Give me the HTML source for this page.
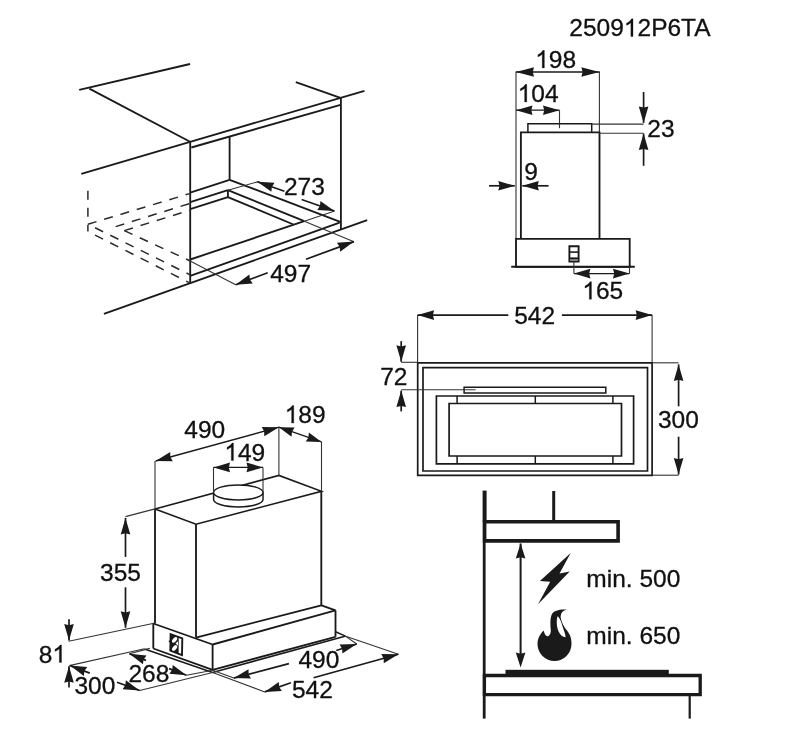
<!DOCTYPE html>
<html><head><meta charset="utf-8"><style>html,body{margin:0;padding:0;background:#fff;}svg{display:block;will-change:transform}</style></head>
<body><svg width="793" height="751" viewBox="0 0 793 751" font-family="Liberation Sans, sans-serif" fill="#111" stroke-width="0">
<line x1="79.2" y1="89.9" x2="190" y2="64.0" stroke="#1a1a1a" stroke-width="1.85" />
<line x1="89.3" y1="88.6" x2="190.1" y2="141.8" stroke="#1a1a1a" stroke-width="1.85" />
<line x1="81.3" y1="173.8" x2="190.1" y2="141.8" stroke="#1a1a1a" stroke-width="1.85" />
<line x1="190.1" y1="141.8" x2="340.5" y2="97.8" stroke="#1a1a1a" stroke-width="1.85" />
<line x1="191.3" y1="147.5" x2="340.5" y2="104.8" stroke="#1a1a1a" stroke-width="1.85" />
<line x1="295.8" y1="82.1" x2="340.5" y2="97.8" stroke="#1a1a1a" stroke-width="1.85" />
<line x1="340.5" y1="97.8" x2="364.5" y2="90.9" stroke="#1a1a1a" stroke-width="1.85" />
<line x1="190.2" y1="141.8" x2="190.2" y2="282.6" stroke="#1a1a1a" stroke-width="1.85" />
<line x1="340.9" y1="97.8" x2="340.9" y2="229.5" stroke="#1a1a1a" stroke-width="1.85" />
<line x1="229.6" y1="136.5" x2="229.6" y2="179.8" stroke="#1a1a1a" stroke-width="1.85" />
<line x1="190.2" y1="192.7" x2="229.6" y2="179.8" stroke="#1a1a1a" stroke-width="1.85" />
<line x1="229.6" y1="179.8" x2="340.9" y2="222.1" stroke="#1a1a1a" stroke-width="1.85" />
<line x1="190.2" y1="202.2" x2="227.9" y2="190.2" stroke="#1a1a1a" stroke-width="1.85" />
<line x1="227.9" y1="190.2" x2="227.9" y2="197.1" stroke="#1a1a1a" stroke-width="1.85" />
<line x1="227.9" y1="190.2" x2="304.3" y2="221.2" stroke="#1a1a1a" stroke-width="1.85" />
<line x1="190.2" y1="209.1" x2="227.9" y2="197.1" stroke="#1a1a1a" stroke-width="1.85" />
<line x1="227.9" y1="197.1" x2="293.5" y2="224.5" stroke="#1a1a1a" stroke-width="1.85" />
<line x1="190.2" y1="259.5" x2="304.3" y2="221.2" stroke="#1a1a1a" stroke-width="1.85" />
<line x1="190.2" y1="275.9" x2="339.6" y2="222.7" stroke="#1a1a1a" stroke-width="1.85" />
<line x1="103.9" y1="313.8" x2="367.2" y2="220.1" stroke="#1a1a1a" stroke-width="1.85" />
<line x1="87.9" y1="190.7" x2="87.9" y2="231.5" stroke="#2a2a2a" stroke-width="1.5" stroke-dasharray="9 8" stroke-dashoffset="0"/>
<line x1="87.9" y1="224.2" x2="189.7" y2="193.6" stroke="#2a2a2a" stroke-width="1.5" stroke-dasharray="9 8" stroke-dashoffset="0"/>
<line x1="115.6" y1="226.6" x2="189.7" y2="203.5" stroke="#2a2a2a" stroke-width="1.5" stroke-dasharray="9 8" stroke-dashoffset="0"/>
<line x1="124.3" y1="230.6" x2="189.7" y2="210.3" stroke="#2a2a2a" stroke-width="1.5" stroke-dasharray="9 8" stroke-dashoffset="0"/>
<line x1="87.9" y1="224.2" x2="189.7" y2="274.6" stroke="#2a2a2a" stroke-width="1.5" stroke-dasharray="9 8" stroke-dashoffset="9"/>
<line x1="87.9" y1="231.5" x2="189.7" y2="282.9" stroke="#2a2a2a" stroke-width="1.5" stroke-dasharray="9 8" stroke-dashoffset="9"/>
<line x1="124.3" y1="230.6" x2="189.7" y2="260.7" stroke="#2a2a2a" stroke-width="1.5" stroke-dasharray="9 8" stroke-dashoffset="0"/>
<line x1="227.9" y1="190.2" x2="258.8" y2="181.5" stroke="#333" stroke-width="1.1" />
<line x1="304.3" y1="221.2" x2="334.6" y2="211.1" stroke="#333" stroke-width="1.1" />
<line x1="284.4" y1="191.3" x2="257.4" y2="181.8" stroke="#1a1a1a" stroke-width="1.7" />
<path d="M257.40,181.80 L274.56,182.75 L271.83,186.88 L271.37,191.80 Z" fill="#1a1a1a"/>
<line x1="301.6" y1="199.5" x2="334.4" y2="211.0" stroke="#1a1a1a" stroke-width="1.7" />
<path d="M334.40,211.00 L317.24,210.07 L319.96,205.94 L320.42,201.01 Z" fill="#1a1a1a"/>
<text x="283.97" y="195.4" font-size="24.5" stroke="#111" stroke-width="0.3">273</text>
<line x1="189.7" y1="260.7" x2="235.6" y2="284.8" stroke="#333" stroke-width="1.1" />
<line x1="304.3" y1="221.2" x2="354.0" y2="241.7" stroke="#333" stroke-width="1.1" />
<line x1="267.7" y1="272.8" x2="235.6" y2="284.8" stroke="#1a1a1a" stroke-width="1.7" />
<path d="M235.60,284.80 L249.37,274.53 L249.93,279.44 L252.74,283.52 Z" fill="#1a1a1a"/>
<line x1="306.0" y1="259.2" x2="354.0" y2="241.6" stroke="#1a1a1a" stroke-width="1.7" />
<path d="M354.00,241.60 L340.16,251.79 L339.64,246.87 L336.86,242.77 Z" fill="#1a1a1a"/>
<text x="270.24" y="281.9" font-size="24.5" stroke="#111" stroke-width="0.3">497</text>
<text x="569.37" y="36.4" font-size="24.5" stroke="#111" stroke-width="0.3">2509</text>
<path d="M633.00,36.40 L630.85,36.40 L630.85,22.68 Q630.07,23.42 628.81,24.16 Q627.54,24.90 626.54,25.27 L626.54,23.19 Q628.34,22.34 629.68,21.15 Q631.01,19.96 631.61,18.86 L633.00,18.86 Z" fill="#111" stroke="#111" stroke-width="0.3"/>
<text x="637.50" y="36.4" font-size="24.5" stroke="#111" stroke-width="0.3">2P6TA</text>
<line x1="516" y1="71.4" x2="516" y2="238.8" stroke="#333" stroke-width="1.1" />
<line x1="599.4" y1="71.4" x2="599.4" y2="132.4" stroke="#333" stroke-width="1.1" />
<line x1="516" y1="72" x2="599.4" y2="72" stroke="#1a1a1a" stroke-width="1.3" />
<path d="M516.00,72.00 L534.00,67.20 L532.80,72.00 L534.00,76.80 Z" fill="#1a1a1a"/>
<path d="M599.40,72.00 L581.40,76.80 L582.60,72.00 L581.40,67.20 Z" fill="#1a1a1a"/>
<path d="M544.36,67.90 L542.21,67.90 L542.21,54.18 Q541.43,54.92 540.17,55.66 Q538.90,56.40 537.90,56.77 L537.90,54.69 Q539.71,53.84 541.04,52.65 Q542.37,51.46 542.97,50.36 L544.36,50.36 Z" fill="#111" stroke="#111" stroke-width="0.3"/>
<text x="548.86" y="67.9" font-size="24.5" stroke="#111" stroke-width="0.3">98</text>
<line x1="516" y1="110.2" x2="559.5" y2="110.2" stroke="#1a1a1a" stroke-width="1.3" />
<path d="M516.00,110.20 L532.50,105.40 L531.30,110.20 L532.50,115.00 Z" fill="#1a1a1a"/>
<path d="M559.50,110.20 L543.00,115.00 L544.20,110.20 L543.00,105.40 Z" fill="#1a1a1a"/>
<line x1="559.5" y1="110.2" x2="559.5" y2="128.2" stroke="#333" stroke-width="1.1" />
<path d="M526.76,101.90 L524.61,101.90 L524.61,88.18 Q523.83,88.92 522.57,89.66 Q521.30,90.40 520.30,90.77 L520.30,88.69 Q522.11,87.84 523.44,86.65 Q524.77,85.46 525.37,84.36 L526.76,84.36 Z" fill="#111" stroke="#111" stroke-width="0.3"/>
<text x="531.26" y="101.9" font-size="24.5" stroke="#111" stroke-width="0.3">04</text>
<path d="M527.9,132.4 L527.9,123.8 L591.7,123.8 L591.7,132.4" stroke="#1a1a1a" stroke-width="1.5" fill="none" stroke-linejoin="miter"/>
<path d="M520.9,238.8 L520.9,132.4 L599.5,132.4 L599.5,238.8" stroke="#1a1a1a" stroke-width="1.85" fill="none" stroke-linejoin="miter"/>
<line x1="591.7" y1="124.1" x2="643.6" y2="124.1" stroke="#333" stroke-width="1.1" />
<line x1="599.5" y1="133.2" x2="643.6" y2="133.2" stroke="#333" stroke-width="1.1" />
<line x1="643.6" y1="92" x2="643.6" y2="122.9" stroke="#1a1a1a" stroke-width="1.7" />
<path d="M643.60,122.90 L638.80,106.40 L643.60,107.60 L648.40,106.40 Z" fill="#1a1a1a"/>
<line x1="643.6" y1="165.8" x2="643.6" y2="133.6" stroke="#1a1a1a" stroke-width="1.7" />
<path d="M643.60,133.60 L648.40,150.10 L643.60,148.90 L638.80,150.10 Z" fill="#1a1a1a"/>
<text x="647.37" y="136.7" font-size="24.5" stroke="#111" stroke-width="0.3">23</text>
<line x1="489" y1="185.8" x2="514.8" y2="185.8" stroke="#1a1a1a" stroke-width="1.7" />
<path d="M514.80,185.80 L498.30,190.60 L499.50,185.80 L498.30,181.00 Z" fill="#1a1a1a"/>
<line x1="548.6" y1="185.8" x2="522.3" y2="185.8" stroke="#1a1a1a" stroke-width="1.7" />
<path d="M522.30,185.80 L538.80,181.00 L537.60,185.80 L538.80,190.60 Z" fill="#1a1a1a"/>
<text x="524.25" y="179.8" font-size="24.5" stroke="#111" stroke-width="0.3">9</text>
<path d="M516,238.8 L629.7,238.8 L629.7,266.8 L516,266.8 Z" stroke="#1a1a1a" stroke-width="1.85" fill="none" stroke-linejoin="miter"/>
<line x1="511.2" y1="266.8" x2="634.8" y2="266.8" stroke="#1a1a1a" stroke-width="2.0" />
<path d="M569.4,246.3 L578.6,246.3 L578.6,261.6 L569.4,261.6 Z" stroke="#1a1a1a" stroke-width="1.9" fill="none" stroke-linejoin="miter"/>
<line x1="569.4" y1="252.1" x2="578.6" y2="252.1" stroke="#1a1a1a" stroke-width="1.6" />
<line x1="569.4" y1="258.2" x2="578.6" y2="258.2" stroke="#1a1a1a" stroke-width="1.6" />
<rect x="570.2" y="259" width="7.6" height="1.8" fill="#777"/>
<line x1="573.9" y1="261.7" x2="573.9" y2="273.6" stroke="#333" stroke-width="1.1" />
<line x1="629.5" y1="266.8" x2="629.5" y2="273.6" stroke="#333" stroke-width="1.1" />
<line x1="573.9" y1="273.6" x2="629.5" y2="273.6" stroke="#1a1a1a" stroke-width="1.3" />
<path d="M573.90,273.60 L590.40,268.80 L589.20,273.60 L590.40,278.40 Z" fill="#1a1a1a"/>
<path d="M629.50,273.60 L613.00,278.40 L614.20,273.60 L613.00,268.80 Z" fill="#1a1a1a"/>
<path d="M591.46,299.20 L589.31,299.20 L589.31,285.48 Q588.53,286.22 587.27,286.96 Q586.00,287.70 585.00,288.07 L585.00,285.99 Q586.81,285.14 588.14,283.95 Q589.47,282.76 590.07,281.66 L591.46,281.66 Z" fill="#111" stroke="#111" stroke-width="0.3"/>
<text x="595.96" y="299.2" font-size="24.5" stroke="#111" stroke-width="0.3">65</text>
<line x1="417.6" y1="315.1" x2="417.6" y2="362.8" stroke="#333" stroke-width="1.1" />
<line x1="652.1" y1="315.1" x2="652.1" y2="362.8" stroke="#333" stroke-width="1.1" />
<line x1="508.3" y1="315.1" x2="417.6" y2="315.1" stroke="#1a1a1a" stroke-width="1.7" />
<path d="M417.60,315.10 L434.10,310.30 L432.90,315.10 L434.10,319.90 Z" fill="#1a1a1a"/>
<line x1="561.9" y1="315.1" x2="652.1" y2="315.1" stroke="#1a1a1a" stroke-width="1.7" />
<path d="M652.10,315.10 L635.60,319.90 L636.80,315.10 L635.60,310.30 Z" fill="#1a1a1a"/>
<text x="514.22" y="323.8" font-size="24.5" stroke="#111" stroke-width="0.3">542</text>
<path d="M417.7,362.8 L652.1,362.8 L652.1,475.3 L417.7,475.3 Z" stroke="#1a1a1a" stroke-width="1.7" fill="none" stroke-linejoin="miter"/>
<path d="M423.0,367.6 L647.5,367.6 L647.5,471.0 L423.0,471.0 Z" stroke="#1a1a1a" stroke-width="1.7" fill="none" stroke-linejoin="miter"/>
<path d="M464.1,387.2 L605.8,387.2 L605.8,393.0 L464.1,393.0 Z" stroke="#1a1a1a" stroke-width="1.5" fill="none" stroke-linejoin="miter"/>
<path d="M436.4,396.0 L633.6,396.0 L633.6,463.8 L436.4,463.8 Z" stroke="#1a1a1a" stroke-width="1.7" fill="none" stroke-linejoin="miter"/>
<path d="M449.1,403.5 L621.5,403.5 L621.5,456.0 L449.1,456.0 Z" stroke="#1a1a1a" stroke-width="1.7" fill="none" stroke-linejoin="miter"/>
<line x1="457.1" y1="396" x2="457.1" y2="403.5" stroke="#1a1a1a" stroke-width="1.5" />
<line x1="457.1" y1="456" x2="457.1" y2="463.8" stroke="#1a1a1a" stroke-width="1.5" />
<line x1="535.3" y1="396" x2="535.3" y2="403.5" stroke="#1a1a1a" stroke-width="1.5" />
<line x1="535.3" y1="456" x2="535.3" y2="463.8" stroke="#1a1a1a" stroke-width="1.5" />
<line x1="612.9" y1="396" x2="612.9" y2="403.5" stroke="#1a1a1a" stroke-width="1.5" />
<line x1="612.9" y1="456" x2="612.9" y2="463.8" stroke="#1a1a1a" stroke-width="1.5" />
<line x1="401.2" y1="362.3" x2="417.7" y2="362.3" stroke="#333" stroke-width="1.1" />
<line x1="401.2" y1="389.7" x2="475.6" y2="389.7" stroke="#333" stroke-width="1.1" />
<line x1="401.2" y1="341.2" x2="401.2" y2="361.8" stroke="#1a1a1a" stroke-width="1.7" />
<path d="M401.20,361.80 L396.40,345.30 L401.20,346.50 L406.00,345.30 Z" fill="#1a1a1a"/>
<line x1="401.2" y1="411.4" x2="401.2" y2="390.6" stroke="#1a1a1a" stroke-width="1.7" />
<path d="M401.20,390.60 L406.00,407.10 L401.20,405.90 L396.40,407.10 Z" fill="#1a1a1a"/>
<text x="380.24" y="384.7" font-size="24.5" stroke="#111" stroke-width="0.3">72</text>
<line x1="652.1" y1="362.8" x2="678.6" y2="362.8" stroke="#333" stroke-width="1.1" />
<line x1="652.1" y1="475.2" x2="678.6" y2="475.2" stroke="#333" stroke-width="1.1" />
<line x1="678.6" y1="406.3" x2="678.6" y2="364.4" stroke="#1a1a1a" stroke-width="1.7" />
<path d="M678.60,364.40 L683.40,380.90 L678.60,379.70 L673.80,380.90 Z" fill="#1a1a1a"/>
<line x1="678.6" y1="436.7" x2="678.6" y2="474.6" stroke="#1a1a1a" stroke-width="1.7" />
<path d="M678.60,474.60 L673.80,458.10 L678.60,459.30 L683.40,458.10 Z" fill="#1a1a1a"/>
<text x="657.97" y="428.3" font-size="24.5" stroke="#111" stroke-width="0.3">300</text>
<path d="M155,508.9 L278.9,475.4 L321.5,491.3 L196,524.2 L155,508.9" stroke="#1a1a1a" stroke-width="1.6" fill="none" stroke-linejoin="miter"/>
<line x1="155" y1="508.9" x2="155" y2="623.5" stroke="#1a1a1a" stroke-width="1.85" />
<line x1="196" y1="524.2" x2="196" y2="637.6" stroke="#1a1a1a" stroke-width="1.85" />
<line x1="321.3" y1="491.3" x2="321.3" y2="605.3" stroke="#1a1a1a" stroke-width="1.85" />
<line x1="196" y1="637.6" x2="321.3" y2="605.3" stroke="#1a1a1a" stroke-width="1.85" />
<line x1="153.3" y1="623.5" x2="212.6" y2="644.5" stroke="#1a1a1a" stroke-width="1.85" />
<line x1="153.3" y1="623.5" x2="153.3" y2="648.5" stroke="#1a1a1a" stroke-width="1.85" />
<line x1="212.6" y1="644.5" x2="212.6" y2="669.9" stroke="#1a1a1a" stroke-width="1.85" />
<line x1="212.6" y1="644.5" x2="335.5" y2="610.4" stroke="#1a1a1a" stroke-width="1.85" />
<line x1="320.8" y1="605.1" x2="335.5" y2="610.4" stroke="#1a1a1a" stroke-width="1.85" />
<line x1="335.5" y1="610.4" x2="335.5" y2="636.8" stroke="#1a1a1a" stroke-width="1.85" />
<line x1="212.6" y1="669.9" x2="335.5" y2="636.8" stroke="#1a1a1a" stroke-width="1.85" />
<line x1="153.3" y1="648.5" x2="212.6" y2="669.9" stroke="#1a1a1a" stroke-width="1.85" />
<line x1="144.5" y1="649" x2="212.6" y2="672.5" stroke="#1a1a1a" stroke-width="1.5" />
<line x1="212.6" y1="672.4" x2="345" y2="636.3" stroke="#1a1a1a" stroke-width="1.6" />
<line x1="335.5" y1="631.7" x2="345" y2="635.9" stroke="#1a1a1a" stroke-width="1.5" />
<path d="M170.6,634.2 L182.3,638.4 L182.0,655.2 L170.3,650.6 Z" fill="none" stroke="#1a1a1a" stroke-width="1.9"/>
<path d="M170.6,634.2 L178.7,637.2 L178.6,653.6 L170.3,650.6 Z" fill="#1a1a1a"/>
<ellipse cx="0" cy="0" rx="3.3" ry="1.9" fill="#fff" transform="translate(174.6,639.9) rotate(-50)"/>
<ellipse cx="0" cy="0" rx="3.3" ry="1.9" fill="#fff" transform="translate(174.6,648.0) rotate(-50)"/>
<path d="M175.5,643.5 L178,641.3 L178,645.7 Z" fill="#fff"/>
<line x1="168.8" y1="641.3" x2="171" y2="641.6" stroke="#1a1a1a" stroke-width="1.6" />
<path d="M213.6,492.4 L213.6,499.5 A24.7,7.5 0 0 0 263,499.5 L263,492.4" fill="none" stroke="#1a1a1a" stroke-width="1.5"/>
<ellipse cx="238.3" cy="492.4" rx="24.7" ry="7.5" fill="#fff" stroke="#1a1a1a" stroke-width="1.5"/>
<line x1="213.5" y1="467.4" x2="213.5" y2="492.4" stroke="#333" stroke-width="1.1" />
<line x1="263" y1="467.4" x2="263" y2="492.4" stroke="#333" stroke-width="1.1" />
<line x1="213.5" y1="467.4" x2="263" y2="467.4" stroke="#1a1a1a" stroke-width="1.3" />
<path d="M213.50,467.40 L230.00,462.60 L228.80,467.40 L230.00,472.20 Z" fill="#1a1a1a"/>
<path d="M263.00,467.40 L246.50,472.20 L247.70,467.40 L246.50,462.60 Z" fill="#1a1a1a"/>
<path d="M233.46,460.60 L231.31,460.60 L231.31,446.88 Q230.53,447.62 229.27,448.36 Q228.00,449.10 227.00,449.47 L227.00,447.39 Q228.81,446.54 230.14,445.35 Q231.47,444.16 232.07,443.06 L233.46,443.06 Z" fill="#111" stroke="#111" stroke-width="0.3"/>
<text x="237.96" y="460.6" font-size="24.5" stroke="#111" stroke-width="0.3">49</text>
<line x1="155" y1="461" x2="155" y2="508.9" stroke="#333" stroke-width="1.1" />
<line x1="278.9" y1="427.2" x2="278.9" y2="475.4" stroke="#333" stroke-width="1.1" />
<line x1="321.5" y1="441.9" x2="321.5" y2="491.3" stroke="#333" stroke-width="1.1" />
<line x1="155.6" y1="461" x2="278.9" y2="427.2" stroke="#1a1a1a" stroke-width="1.3" />
<path d="M155.60,461.00 L170.24,452.01 L170.36,456.96 L172.78,461.27 Z" fill="#1a1a1a"/>
<path d="M278.90,427.20 L264.26,436.19 L264.14,431.24 L261.72,426.93 Z" fill="#1a1a1a"/>
<line x1="278.9" y1="427.2" x2="321.5" y2="441.9" stroke="#1a1a1a" stroke-width="1.3" />
<path d="M278.90,427.20 L294.65,427.56 L291.95,431.70 L291.51,436.63 Z" fill="#1a1a1a"/>
<path d="M321.50,441.90 L305.75,441.54 L308.45,437.40 L308.89,432.47 Z" fill="#1a1a1a"/>
<text x="184.34" y="438.4" font-size="24.5" stroke="#111" stroke-width="0.3">490</text>
<path d="M293.76,423.00 L291.61,423.00 L291.61,409.28 Q290.83,410.02 289.57,410.76 Q288.30,411.50 287.30,411.87 L287.30,409.79 Q289.11,408.94 290.44,407.75 Q291.77,406.56 292.37,405.46 L293.76,405.46 Z" fill="#111" stroke="#111" stroke-width="0.3"/>
<text x="298.26" y="423" font-size="24.5" stroke="#111" stroke-width="0.3">89</text>
<line x1="125.5" y1="516.6" x2="155" y2="508.9" stroke="#333" stroke-width="1.1" />
<line x1="68.7" y1="641.2" x2="154" y2="623.3" stroke="#333" stroke-width="1.1" />
<line x1="125.5" y1="556.9" x2="125.5" y2="518" stroke="#1a1a1a" stroke-width="1.7" />
<path d="M125.50,518.00 L130.30,534.50 L125.50,533.30 L120.70,534.50 Z" fill="#1a1a1a"/>
<line x1="125.5" y1="587.3" x2="125.5" y2="627.8" stroke="#1a1a1a" stroke-width="1.7" />
<path d="M125.50,627.80 L120.70,611.30 L125.50,612.50 L130.30,611.30 Z" fill="#1a1a1a"/>
<text x="100.07" y="581.3" font-size="24.5" stroke="#111" stroke-width="0.3">355</text>
<line x1="69" y1="619.2" x2="69" y2="640.6" stroke="#1a1a1a" stroke-width="1.7" />
<path d="M69.00,640.60 L64.20,624.10 L69.00,625.30 L73.80,624.10 Z" fill="#1a1a1a"/>
<line x1="69" y1="687.5" x2="69" y2="666.3" stroke="#1a1a1a" stroke-width="1.7" />
<path d="M69.00,666.30 L73.80,682.80 L69.00,681.60 L64.20,682.80 Z" fill="#1a1a1a"/>
<line x1="69.3" y1="665.6" x2="144.5" y2="648.8" stroke="#333" stroke-width="1.1" />
<text x="38.74" y="662.5" font-size="24.5" stroke="#111" stroke-width="0.3">8</text>
<path d="M61.49,662.50 L59.34,662.50 L59.34,648.78 Q58.56,649.52 57.30,650.26 Q56.03,651.00 55.03,651.37 L55.03,649.29 Q56.84,648.44 58.17,647.25 Q59.50,646.06 60.10,644.96 L61.49,644.96 Z" fill="#111" stroke="#111" stroke-width="0.3"/>
<line x1="89.8" y1="673.1" x2="70.1" y2="665.6" stroke="#1a1a1a" stroke-width="1.7" />
<path d="M70.10,665.60 L87.23,666.98 L84.40,671.04 L83.81,675.96 Z" fill="#1a1a1a"/>
<line x1="117" y1="682.2" x2="139.7" y2="690.5" stroke="#1a1a1a" stroke-width="1.7" />
<path d="M139.70,690.50 L122.56,689.34 L125.33,685.25 L125.85,680.33 Z" fill="#1a1a1a"/>
<line x1="139.7" y1="690.5" x2="212.6" y2="672.5" stroke="#333" stroke-width="1.1" />
<text x="74.47" y="694.3" font-size="24.5" stroke="#111" stroke-width="0.3">300</text>
<line x1="129.4" y1="653.8" x2="149.8" y2="648.4" stroke="#333" stroke-width="1.1" />
<line x1="186.5" y1="675.2" x2="212.6" y2="670.2" stroke="#333" stroke-width="1.1" />
<line x1="146" y1="660.4" x2="129.4" y2="653.8" stroke="#1a1a1a" stroke-width="1.7" />
<path d="M129.40,653.80 L146.51,655.44 L143.62,659.45 L142.96,664.36 Z" fill="#1a1a1a"/>
<line x1="169" y1="668.6" x2="186.5" y2="675.2" stroke="#1a1a1a" stroke-width="1.7" />
<path d="M186.50,675.20 L169.37,673.87 L172.18,669.80 L172.76,664.89 Z" fill="#1a1a1a"/>
<text x="128.47" y="681.7" font-size="24.5" stroke="#111" stroke-width="0.3">268</text>
<line x1="212.6" y1="670.2" x2="233.8" y2="678.1" stroke="#333" stroke-width="1.1" />
<line x1="345" y1="635.9" x2="356.7" y2="644" stroke="#333" stroke-width="1.1" />
<line x1="288.9" y1="663.6" x2="233.8" y2="678.1" stroke="#1a1a1a" stroke-width="1.7" />
<path d="M233.80,678.10 L248.54,669.26 L248.60,674.21 L250.98,678.54 Z" fill="#1a1a1a"/>
<line x1="336.3" y1="650.5" x2="356.7" y2="644" stroke="#1a1a1a" stroke-width="1.7" />
<path d="M356.70,644.00 L342.44,653.58 L342.12,648.64 L339.52,644.44 Z" fill="#1a1a1a"/>
<text x="298.44" y="667.7" font-size="24.5" stroke="#111" stroke-width="0.3">490</text>
<line x1="212.6" y1="672.5" x2="264.7" y2="691.9" stroke="#333" stroke-width="1.1" />
<line x1="345" y1="635.9" x2="398.4" y2="654.3" stroke="#333" stroke-width="1.1" />
<line x1="290.9" y1="682.8" x2="264.7" y2="691.9" stroke="#1a1a1a" stroke-width="1.7" />
<path d="M264.70,691.90 L278.71,681.95 L279.15,686.88 L281.86,691.02 Z" fill="#1a1a1a"/>
<line x1="313.6" y1="677.8" x2="398.4" y2="654.3" stroke="#1a1a1a" stroke-width="1.7" />
<path d="M398.40,654.30 L383.78,663.33 L383.66,658.39 L381.22,654.08 Z" fill="#1a1a1a"/>
<text x="291.92" y="698" font-size="24.5" stroke="#111" stroke-width="0.3">542</text>
<line x1="484.6" y1="490.6" x2="484.6" y2="522" stroke="#1a1a1a" stroke-width="4" />
<line x1="484.2" y1="522" x2="484.2" y2="718.6" stroke="#1a1a1a" stroke-width="2.8" />
<line x1="553.7" y1="491" x2="553.7" y2="522" stroke="#1a1a1a" stroke-width="3" />
<path d="M484.6,521.8 L618.1,521.8 L618.1,540.9 L484.6,540.9 Z" stroke="#1a1a1a" stroke-width="3.6" fill="none" stroke-linejoin="miter"/>
<line x1="520.6" y1="605" x2="520.6" y2="543.5" stroke="#1a1a1a" stroke-width="2" />
<path d="M520.60,543.50 L525.40,558.50 L520.60,557.30 L515.80,558.50 Z" fill="#1a1a1a"/>
<path d="M520.60,667.60 L515.80,652.60 L520.60,653.80 L525.40,652.60 Z" fill="#1a1a1a"/>
<line x1="520.6" y1="605" x2="520.6" y2="660" stroke="#1a1a1a" stroke-width="2" />
<path d="M570.7,552.9 L539.9,580.9 L550.2,581.8 L538,604.2 L569.7,571.6 L559.5,573.4 Z" fill="#1a1a1a"/>
<path d="M543.8,630.6 C540,634 537.5,639 537.5,644 A17,17 0 0 0 571.5,644 C571.5,638 570,634.5 567,630.6 C563.2,626 560.8,620 560.6,616.5 C561,612.5 563,610.5 566.8,609.6 C560,609 554,610.5 552,614 C550,618 550.3,624 550.8,630 C551,634 549,636.5 547.3,636.3 C545.5,636 544,633 543.8,630.6 Z M557.6,616.3 C556.4,619 556.5,626 558,630 C559.5,634 562,637 565.6,637.3 C565.5,633 563,629 561.8,624 C560.6,620 559,617.2 557.6,616.3 Z" fill="#1a1a1a" fill-rule="evenodd"/>
<text x="586.37" y="587" font-size="24.5" stroke="#111" stroke-width="0.3">min. 500</text>
<text x="586.37" y="643.9" font-size="24.5" stroke="#111" stroke-width="0.3">min. 650</text>
<rect x="505.5" y="669.8" width="163.3" height="5" fill="#1a1a1a"/>
<path d="M484.4,675.5 L700.2,675.5 L700.2,694.6 L484.4,694.6 Z" stroke="#1a1a1a" stroke-width="3.3" fill="none" stroke-linejoin="miter"/>
<line x1="689.7" y1="696" x2="689.7" y2="718.6" stroke="#1a1a1a" stroke-width="2.2" />
</svg></body></html>
